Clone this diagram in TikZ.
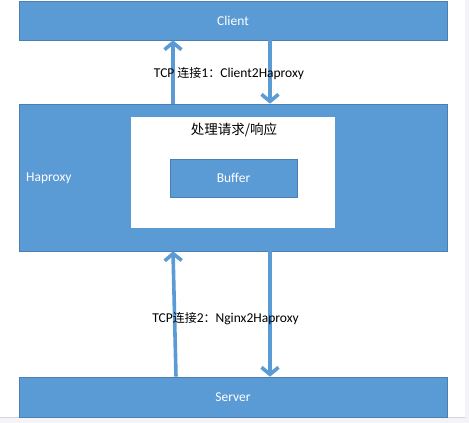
\documentclass[tikz,border=0pt]{standalone}
\usepackage{fontspec}
\setmainfont{Carlito}
\newfontfamily\cjk{Noto Sans CJK SC}
\usetikzlibrary{arrows.meta}
\definecolor{boxblue}{HTML}{5B9BD5}
\definecolor{boxedge}{HTML}{4A7FB0}
\definecolor{pagegray}{HTML}{F4F4F8}
\definecolor{lineg}{HTML}{D4D4D8}
\tikzset{
  bluebox/.style={rectangle, fill=boxblue, draw=boxedge, line width=0.6pt, text=white, font=\fontsize{13.5}{15}\selectfont, inner sep=0pt},
  whitebox/.style={rectangle, fill=white, draw=none, inner sep=0pt},
  arr/.style={draw=boxblue, line width=3.6pt, -{Straight Barb[length=7pt,width=17pt]}},
  lbl/.style={font=\fontsize{13.5}{15}\selectfont, text=black, inner sep=0pt},
}
\begin{document}
\begin{tikzpicture}[x=1pt,y=-1pt]
\useasboundingbox (0,0) rectangle (469,423);
\fill[pagegray] (0,0) rectangle (469,423);
\fill[white] (0,0) rectangle (464.5,417);
\draw[lineg, line width=1.2pt] (0,417.6) -- (464.5,417.6);
\node[bluebox, minimum width=428pt, minimum height=39pt] (client) at (233,20.5) {Client};
\node[bluebox, minimum width=428pt, minimum height=147pt] (hap) at (233,177.5) {};
\node[text=white, font=\fontsize{13.5}{15}\selectfont, anchor=west, inner sep=0pt] (haplbl) at (26,178.5) {Haproxy};
\node[whitebox, minimum width=204pt, minimum height=111pt] (proc) at (233,172.5) {};
\node[lbl, font=\cjk\fontsize{13.5}{15}\selectfont] (proclbl) at (234,130) {处理请求/响应};
\node[bluebox, minimum width=127pt, minimum height=38pt] (buffer) at (233.5,178) {Buffer};
\node[bluebox, minimum width=428pt, minimum height=40pt] (server) at (233,397) {Server};
\draw[arr] ([xshift=-60pt]hap.north) -- ([xshift=-60pt]client.south);
\draw[arr] ([xshift=37pt]client.south) -- ([xshift=37pt]hap.north);
\draw[arr] ([xshift=-57pt]server.north) -- ([xshift=-60pt]hap.south);
\draw[arr] ([xshift=37pt]hap.south) -- ([xshift=37pt]server.north);
\node[lbl] (l1) at (229,73.5) {TCP {\cjk\fontsize{12}{14}\selectfont 连接}1{\cjk\fontsize{12}{14}\selectfont ：}Client2Haproxy};
\node[lbl] (l2) at (225.5,318.5) {TCP{\cjk\fontsize{12}{14}\selectfont 连接}2{\cjk\fontsize{12}{14}\selectfont ：}Nginx2Haproxy};
\end{tikzpicture}
\end{document}
